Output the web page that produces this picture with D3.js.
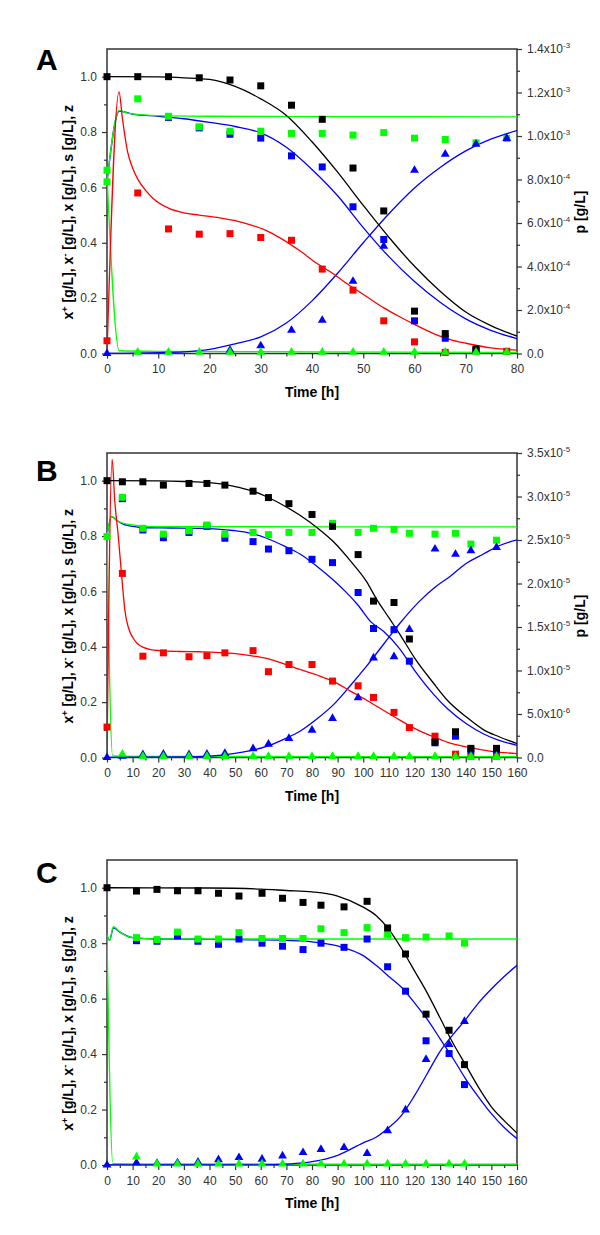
<!DOCTYPE html>
<html><head><meta charset="utf-8">
<script src="https://cdn.jsdelivr.net/npm/d3@7"></script>
<style>body{margin:0;background:#fff} svg{display:block} text{font-family:Arial,"Liberation Sans",sans-serif}</style>
</head><body><svg id="c" width="600" height="1235"></svg>
<script>
// ---------- Panel A data ----------
const tA = [0,6,12,18,24,30,36,42,48,54,60,66,72,78];
const aBlackSq = [1.0,1.0,1.0,0.996,0.988,0.967,0.897,0.846,0.67,0.515,0.153,0.072,0.016,null];
const aGreenSq = [0.662,0.92,0.857,0.819,0.803,0.803,0.795,0.795,0.789,0.798,0.778,0.773,0.761,0.777];
const aGreenSqExtra = [[0,0.62]];
const aBlueSq = [null,null,0.853,0.815,0.792,0.778,0.714,0.674,0.53,0.412,0.118,0.055,0.012,null];
const aRedSq = [0.046,0.58,0.45,0.431,0.433,0.419,0.409,0.305,0.229,0.118,0.042,0.004,0.01,0.008];
const aBlueTri = [0,null,null,null,0.012,0.028,0.084,0.12,0.261,0.388,0.662,0.72,0.756,0.777];
const aGreenTri = [null,0.005,0.005,0.005,0.005,0.005,0.005,0.005,0.005,0.005,0.005,0.005,0.005,0.005];

const aBlackLine = [[0,1.0],[10,0.999],[15,0.996],[20,0.99],[25,0.965],[30,0.92],[35,0.86],[40,0.765],[45,0.655],[50,0.535],[55,0.42],[60,0.315],[65,0.225],[70,0.15],[75,0.1],[80,0.063]];
const aGreenLine = [[0,0.62],[2.4,0.878],[4,0.868],[7,0.862],[10,0.859],[20,0.857],[40,0.856],[80,0.855]];
const aBlueDecLine = [[0,0.62],[2.4,0.876],[5,0.865],[10,0.857],[15,0.848],[20,0.835],[25,0.82],[30,0.797],[35,0.745],[40,0.665],[45,0.57],[50,0.455],[55,0.35],[60,0.26],[65,0.185],[70,0.125],[75,0.083],[80,0.054]];
const aBlueIncLine = [[0,0],[10,0.003],[15,0.006],[20,0.015],[25,0.035],[30,0.06],[35,0.11],[40,0.19],[45,0.29],[50,0.4],[55,0.505],[60,0.598],[65,0.672],[70,0.732],[75,0.775],[80,0.805]];
const aRedLine = [[0,0],[2.35,0.945],[3,0.85],[4,0.73],[5,0.67],[6,0.63],[7.5,0.59],[9,0.56],[12,0.525],[15,0.508],[18,0.5],[22,0.49],[25,0.48],[28,0.465],[31,0.445],[34,0.415],[37.7,0.37],[41,0.325],[44,0.29],[47,0.25],[50.7,0.205],[54,0.165],[57.2,0.132],[60,0.105],[63.7,0.072],[67,0.05],[70,0.037],[75,0.02],[80,0.012]];
const aGreenDropLine = [[0,0.64],[2.4,0.01],[10,0.008],[40,0.006],[80,0.004]];

// ---------- Panel B data ----------
const tB = [0,6,14,22,32,39,46,57,63,71,80,88,98,104,112,118,128,136,142,152];
const bBlackSq = [1.0,0.996,0.996,0.984,0.99,0.99,0.984,0.962,0.939,0.917,0.878,0.835,0.733,0.565,0.56,0.428,0.056,0.093,0.033,0.033];
const bGreenSq = [0.798,0.94,0.828,0.807,0.819,0.84,0.807,0.813,0.805,0.813,0.813,0.846,0.813,0.828,0.824,0.81,0.807,0.81,0.771,0.785];
const bBlueSq = [null,0.935,0.822,0.794,0.813,0.835,0.792,0.78,0.753,0.747,0.716,0.704,0.596,0.466,0.462,0.348,0.053,0.077,0.027,0.027];
const bRedSq = [0.11,0.665,0.366,0.378,0.364,0.368,0.378,0.386,0.31,0.336,0.336,0.276,0.259,0.217,0.163,0.108,0.077,0.012,0.005,0.005];
const bBlueTri = [0,0.005,0.01,0.012,0.01,0.012,0.015,0.032,0.048,0.069,0.099,0.141,0.216,0.36,0.364,0.463,0.753,0.734,0.747,0.759];
const bGreenTri = [null,0.012,0.004,0.004,0.004,0.004,0.004,0.004,0.004,0.004,0.004,0.004,0.004,0.004,0.004,0.004,0.004,0.004,0.004,0.004];

const bBlackLine = [[0,1.0],[20,0.999],[30,0.997],[40,0.993],[49.3,0.98],[56,0.965],[62.3,0.942],[70,0.905],[75.3,0.875],[82,0.83],[88.3,0.78],[95,0.71],[101.3,0.635],[105,0.575],[110,0.505],[114.3,0.445],[120,0.36],[127.3,0.27],[133,0.205],[140.4,0.145],[147,0.1],[153,0.075],[160,0.05]];
const bGreenLine = [[0,0.8],[1.8,0.872],[4,0.855],[7,0.845],[10.3,0.84],[14,0.835],[25,0.834],[160,0.833]];
const bBlueDecLine = [[0,0.8],[1.8,0.87],[4,0.855],[7,0.84],[10.3,0.835],[14,0.83],[25,0.829],[36.3,0.828],[49.3,0.82],[56,0.81],[62.3,0.792],[70,0.76],[75.3,0.735],[82,0.69],[88.3,0.641],[93,0.6],[98,0.55],[103,0.49],[108,0.455],[114,0.395],[120,0.315],[127.3,0.23],[133,0.175],[140.4,0.121],[147,0.085],[153,0.062],[160,0.044]];
const bBlueIncLine = [[0,0],[30,0.002],[40,0.005],[49.3,0.014],[56,0.025],[62.3,0.04],[70,0.07],[75.3,0.095],[82,0.14],[88.3,0.19],[95,0.26],[101.3,0.33],[108,0.41],[114.3,0.485],[122,0.565],[128,0.615],[134,0.655],[140,0.7],[146.9,0.735],[153,0.765],[160,0.786]];
const bRedLine = [[0,0],[2.0,1.077],[3,0.93],[4.4,0.8],[5.5,0.68],[6.4,0.585],[7,0.53],[8.5,0.465],[10.3,0.43],[12,0.41],[14.2,0.398],[17,0.39],[20.7,0.386],[28,0.383],[36.3,0.382],[49.3,0.376],[56,0.368],[62.3,0.358],[70,0.335],[75.3,0.318],[82,0.298],[88.3,0.275],[95,0.24],[101.3,0.207],[108,0.17],[114.3,0.135],[120,0.105],[127.3,0.075],[133,0.055],[140.4,0.038],[150,0.022],[160,0.014]];
const bGreenDropLine = [[0,0.8],[2.2,0.006],[20,0.004],[160,0.003]];

// ---------- Panel C data ----------
const tC = [0,11.5,19.5,27.5,35.5,43.5,51.5,60.5,68.5,76.5,83.5,92.5,101.5,109.5,116.5,124.5,133.5,139.5];
const cBlackSq = [1.0,0.988,0.994,0.989,0.989,0.98,0.97,0.98,0.962,0.947,0.937,0.931,0.951,0.855,0.761,0.544,0.486,0.362];
const cGreenSq = [null,0.82,0.813,0.84,0.815,0.815,0.838,0.817,0.817,0.817,0.852,0.838,0.856,0.832,0.82,0.822,0.826,0.8];
const cBlueSq = [null,0.809,0.807,0.826,0.807,0.796,0.815,0.8,0.789,0.777,0.8,0.785,0.815,0.715,0.627,0.448,0.402,0.29];
const cBlueTri = [0,0.008,0.006,0.008,0.01,0.019,0.027,0.021,0.033,0.045,0.056,0.063,0.042,0.124,0.199,0.381,0.435,0.518];
const cGreenTri = [null,0.029,0.004,0.004,0.004,0.004,0.004,0.004,0.004,0.004,0.004,0.004,0.004,0.004,0.004,0.004,0.004,0.004];

const cBlackLine = [[0,1.0],[40,0.999],[60,0.995],[70,0.99],[80,0.985],[90,0.97],[100,0.93],[105,0.9],[110,0.85],[115,0.78],[120,0.7],[125,0.62],[130,0.53],[135,0.44],[140,0.36],[145,0.28],[150,0.21],[155,0.16],[160,0.115]];
const cGreenLine = [[0,0.83],[1,0.81],[2.5,0.86],[5,0.84],[10,0.82],[20,0.815],[160,0.815]];
const cBlueDecLine = [[0,0.83],[1,0.81],[2.5,0.855],[5,0.84],[10,0.82],[20,0.815],[40,0.814],[60,0.812],[70,0.81],[80,0.805],[90,0.79],[100,0.755],[105,0.72],[110,0.68],[115,0.64],[120,0.585],[125,0.525],[130,0.455],[135,0.385],[140,0.31],[145,0.245],[150,0.185],[155,0.135],[160,0.095]];
const cBlueIncLine = [[0,0],[60,0],[70,0.003],[80,0.012],[90,0.035],[100,0.08],[105,0.1],[110,0.135],[115,0.18],[120,0.25],[125,0.33],[130,0.41],[135,0.47],[140,0.525],[145,0.585],[150,0.635],[155,0.68],[160,0.72]];
const cGreenDropLine = [[0,0.83],[2.3,0.005],[20,0.004],[160,0.003]];

// ---------- tick labels ----------
const leftTicks = [0,0.2,0.4,0.6,0.8,1.0];
const leftMinor = [0.1,0.3,0.5,0.7,0.9];
const rightTicksA = [0,2e-4,4e-4,6e-4,8e-4,1e-3,1.2e-3,1.4e-3];
const rightMantA = ["0.0","2.0x10","4.0x10","6.0x10","8.0x10","1.0x10","1.2x10","1.4x10"];
const rightExpA = ["","-4","-4","-4","-4","-3","-3","-3"];
const rightTicksB = [0,5e-6,1e-5,1.5e-5,2e-5,2.5e-5,3e-5,3.5e-5];
const rightMantB = ["0.0","5.0x10","1.0x10","1.5x10","2.0x10","2.5x10","3.0x10","3.5x10"];
const rightExpB = ["","-6","-5","-5","-5","-5","-5","-5"];

const BLACK="#000000", GREEN="#00ff00", BLUE="#0000ff", RED="#ff0000";
const svg = d3.select("#c");
const L = 107, R = 517;

function pairs(t, v){ return t.map((d,i)=>[d,v[i]]).filter(d=>d[1]!==null && d[1]!==undefined); }

function drawPanel(cfg){
  const g = svg.append("g");
  const x = d3.scaleLinear().domain([0,cfg.xmax]).range([L,R]);
  const y = d3.scaleLinear().domain([0,1.1]).range([cfg.bottom,cfg.top]);
  const clipId = "clip"+cfg.letter;
  g.append("clipPath").attr("id",clipId).append("rect")
    .attr("x",L).attr("y",cfg.top).attr("width",R-L).attr("height",cfg.bottom-cfg.top);

  // axes
  const styleAxis = sel => {
    sel.select(".domain").remove();
    sel.selectAll(".tick line").attr("stroke","#333").attr("stroke-width",1.2);
    sel.selectAll(".tick text").attr("fill","#333").attr("font-size",12).attr("font-family","Arial, 'Liberation Sans', sans-serif");
  };
  g.append("g").attr("transform",`translate(${L},0)`)
    .call(d3.axisLeft(y).tickValues(leftTicks).tickFormat(d3.format(".1f")).tickSize(5).tickPadding(5)).call(styleAxis);
  g.append("g").attr("transform",`translate(${L},0)`)
    .call(d3.axisLeft(y).tickValues(leftMinor).tickFormat("").tickSize(3)).call(styleAxis);
  const xt = d3.range(0,cfg.xmax+1,10), xm = d3.range(5,cfg.xmax,10);
  g.append("g").attr("transform",`translate(0,${cfg.bottom})`)
    .call(d3.axisBottom(x).tickValues(xt).tickFormat(d3.format("d")).tickSize(5).tickPadding(6)).call(styleAxis);
  g.append("g").attr("transform",`translate(0,${cfg.bottom})`)
    .call(d3.axisBottom(x).tickValues(xm).tickFormat("").tickSize(3)).call(styleAxis);

  if(cfg.rTicks){
    const yr = d3.scaleLinear().domain([0,cfg.rTicks[cfg.rTicks.length-1]]).range([cfg.bottom,cfg.top]);
    const minor = cfg.rTicks.slice(1).map((d,i)=>(d+cfg.rTicks[i])/2);
    const ga = g.append("g").attr("transform",`translate(${R},0)`)
      .call(d3.axisRight(yr).tickValues(cfg.rTicks).tickFormat("").tickSize(5).tickPadding(5)).call(styleAxis);
    ga.selectAll(".tick text").each(function(d,i){
      const t = d3.select(this);
      t.append("tspan").text(cfg.rMant[i]);
      if(cfg.rExp[i]) t.append("tspan").attr("dy",-5).attr("font-size",8).text(cfg.rExp[i]);
    });
    g.append("g").attr("transform",`translate(${R},0)`)
      .call(d3.axisRight(yr).tickValues(minor).tickFormat("").tickSize(3)).call(styleAxis);
    g.append("text").attr("transform",`translate(585,${cfg.top+163}) rotate(-90)`)
      .attr("text-anchor","middle").attr("font-weight","bold").attr("font-size",14).text("p [g/L]");
  }

  // frame
  g.append("rect").attr("x",L).attr("y",cfg.top).attr("width",R-L).attr("height",cfg.bottom-cfg.top)
    .attr("fill","none").attr("stroke","#333").attr("stroke-width",1.5);

  // lines
  const line = d3.line().x(d=>x(d[0])).y(d=>y(d[1])).curve(d3.curveMonotoneX);
  const lg = g.append("g").attr("clip-path",`url(#${clipId})`);
  cfg.lines.forEach(l=>{
    lg.append("path").datum(l.data).attr("d",line).attr("fill","none")
      .attr("stroke",l.color).attr("stroke-width",1.3);
  });

  // markers
  const mg = g.append("g");
  cfg.markers.forEach(m=>{
    const sym = d3.symbol().type(m.shape==="tri"?d3.symbolTriangle:d3.symbolSquare).size(m.shape==="tri"?34:49);
    mg.selectAll(null).data(m.data).enter().append("path")
      .attr("d",sym).attr("transform",d=>`translate(${x(d[0])},${y(d[1])})`)
      .attr("fill",m.color);
  });

  // labels
  const yl = g.append("text").attr("transform",`translate(73,${(cfg.top+cfg.bottom)/2+11}) rotate(-90)`)
    .attr("text-anchor","middle").attr("font-weight","bold").attr("font-size",14);
  yl.append("tspan").text("x");
  yl.append("tspan").attr("dy",-5).attr("font-size",9).text("+");
  yl.append("tspan").attr("dy",5).text(" [g/L], x");
  yl.append("tspan").attr("dy",-5).attr("font-size",9).text("-");
  yl.append("tspan").attr("dy",5).text(" [g/L], x [g/L], s [g/L], z");

  g.append("text").attr("x",(L+R)/2).attr("y",cfg.bottom+43).attr("text-anchor","middle")
    .attr("font-weight","bold").attr("font-size",14).text("Time [h]");
  g.append("text").attr("x",36).attr("y",cfg.letterY).attr("font-weight","bold").attr("font-size",30).text(cfg.letter);
}

drawPanel({letter:"A", letterY:70, top:49, bottom:353.5, xmax:80,
  rTicks:rightTicksA, rMant:rightMantA, rExp:rightExpA,
  lines:[
    {data:aGreenDropLine,color:GREEN},{data:aBlueIncLine,color:BLUE},{data:aBlueDecLine,color:BLUE},
    {data:aGreenLine,color:GREEN},{data:aRedLine,color:RED},{data:aBlackLine,color:BLACK}],
  markers:[
    {data:pairs(tA,aRedSq),color:RED,shape:"sq"},
    {data:pairs(tA,aBlueSq),color:BLUE,shape:"sq"},
    {data:pairs(tA,aGreenSq).concat(aGreenSqExtra),color:GREEN,shape:"sq"},
    {data:pairs(tA,aBlackSq),color:BLACK,shape:"sq"},
    {data:pairs(tA,aBlueTri),color:BLUE,shape:"tri"},
    {data:pairs(tA,aGreenTri),color:GREEN,shape:"tri"}]});

drawPanel({letter:"B", letterY:481, top:453, bottom:757.5, xmax:160,
  rTicks:rightTicksB, rMant:rightMantB, rExp:rightExpB,
  lines:[
    {data:bGreenDropLine,color:GREEN},{data:bBlueIncLine,color:BLUE},{data:bBlueDecLine,color:BLUE},
    {data:bGreenLine,color:GREEN},{data:bRedLine,color:RED},{data:bBlackLine,color:BLACK}],
  markers:[
    {data:pairs(tB,bRedSq),color:RED,shape:"sq"},
    {data:pairs(tB,bBlueSq),color:BLUE,shape:"sq"},
    {data:pairs(tB,bGreenSq),color:GREEN,shape:"sq"},
    {data:pairs(tB,bBlackSq),color:BLACK,shape:"sq"},
    {data:pairs(tB,bBlueTri),color:BLUE,shape:"tri"},
    {data:pairs(tB,bGreenTri),color:GREEN,shape:"tri"}]});

drawPanel({letter:"C", letterY:883, top:860, bottom:1165, xmax:160,
  rTicks:null,
  lines:[
    {data:cGreenDropLine,color:GREEN},{data:cBlueIncLine,color:BLUE},{data:cBlueDecLine,color:BLUE},
    {data:cGreenLine,color:GREEN},{data:cBlackLine,color:BLACK}],
  markers:[
    {data:pairs(tC,cBlueSq),color:BLUE,shape:"sq"},
    {data:pairs(tC,cGreenSq),color:GREEN,shape:"sq"},
    {data:pairs(tC,cBlackSq),color:BLACK,shape:"sq"},
    {data:pairs(tC,cBlueTri),color:BLUE,shape:"tri"},
    {data:pairs(tC,cGreenTri),color:GREEN,shape:"tri"}]});
</script></body></html>
